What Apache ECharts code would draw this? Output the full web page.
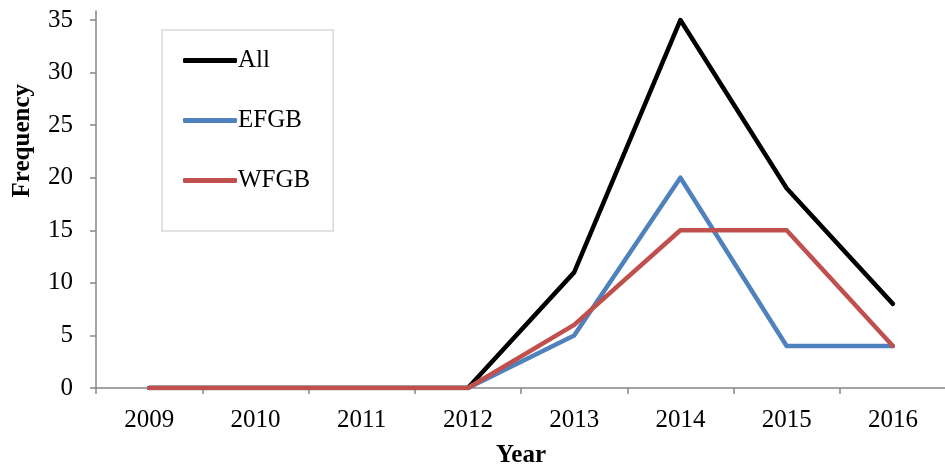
<!DOCTYPE html>
<html><head><meta charset="utf-8">
<script src="https://cdn.jsdelivr.net/npm/echarts@6/dist/echarts.min.js"></script>
<style>html,body{margin:0;padding:0;background:#fff}#c{width:945px;height:466px}</style>
</head><body><div id="c"></div>
<script>
const years = ['2009','2010','2011','2012','2013','2014','2015','2016'];
const allVals = [0,0,0,0,11,35,19,8];
const efgbVals = [0,0,0,0,5,20,4,4];
const wfgbVals = [0,0,0,0,6,15,15,4];
const yTicks = [0,5,10,15,20,25,30,35];
const seriesNames = ['All','EFGB','WFGB'];
const seriesColors = ['#000000','#4f81bd','#c0504d'];

const FONT = 'Liberation Serif';
const FS = 25;
const axisColor = '#868686';
const chart = echarts.init(document.getElementById('c'));
const vals = [allVals, efgbVals, wfgbVals];
chart.setOption({
  animation: false,
  grid: {left: 96, top: 11, width: 850, bottom: 78, containLabel: false, outerBoundsMode: 'none'},
  legend: {
    orient: 'vertical', left: 162, top: 30,
    padding: [18, 23, 38, 21],
    borderColor: '#d9d9d9', borderWidth: 1.5,
    icon: 'roundRect',
    itemWidth: 54, itemHeight: 5, itemGap: 35,
    textStyle: {fontFamily: FONT, fontSize: FS, lineHeight: 24, color: '#000', padding: [0,0,0,-4]},
    data: seriesNames
  },
  xAxis: {
    type: 'category', data: years, boundaryGap: true,
    name: 'Year', nameLocation: 'middle', nameGap: 55,
    nameTextStyle: {fontFamily: FONT, fontSize: FS, fontWeight: 'bold', color: '#000'},
    axisLine: {lineStyle: {color: axisColor, width: 1.5}},
    axisTick: {show: true, length: 6, alignWithLabel: false, lineStyle: {color: axisColor, width: 1.5}},
    axisLabel: {fontFamily: FONT, fontSize: FS, color: '#000', margin: 20},
    splitLine: {show: false}
  },
  yAxis: {
    type: 'value', min: 0, max: 35.86, interval: 5,
    axisLine: {show: true, lineStyle: {color: axisColor, width: 1.5}},
    axisTick: {show: true, length: 6, customValues: yTicks, lineStyle: {color: axisColor, width: 1.5}},
    axisLabel: {fontFamily: FONT, fontSize: FS, color: '#000', margin: 23, customValues: yTicks},
    splitLine: {show: false}
  },
  graphic: [{
    type: 'text', left: 10, top: 84, rotation: Math.PI/2,
    style: {text: 'Frequency', font: 'bold 25px "Liberation Serif"', fill: '#000'}
  }],
  series: seriesNames.map((n, i) => ({
    name: n, type: 'line', data: vals[i], symbol: 'none',
    lineStyle: {color: seriesColors[i], width: 4.5, cap: 'round', join: 'round'},
    itemStyle: {color: seriesColors[i]}
  }))
});
</script></body></html>
